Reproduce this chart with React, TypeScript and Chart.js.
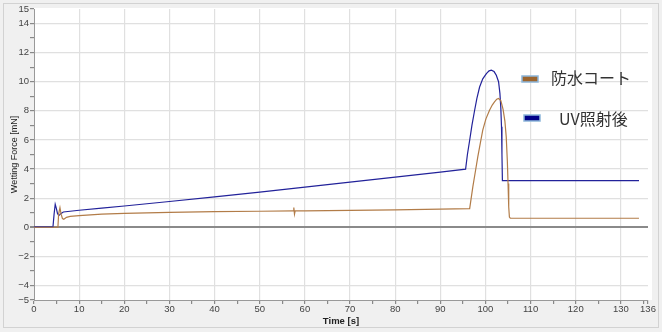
import React, { useEffect, useRef } from 'react';
import { Chart, registerables } from 'chart.js';

Chart.register(...registerables);

const seriesNames = ['防水コート', 'UV照射後'];

// 防水コート (brown)
const coatTimes = [0, 5.3, 5.45, 5.75, 6.0, 6.3, 6.6, 7.2, 8, 10, 15, 20, 30, 40, 50, 57.4, 57.55, 57.7, 57.85, 60, 70, 80, 90, 96.5, 97.2, 97.8, 98.3, 98.9, 99.4, 100.1, 100.9, 101.5, 102, 102.5, 102.9, 103.4, 103.9, 104.3, 104.6, 104.85, 105.0, 105.15, 105.3, 105.5, 120, 134];
const coatValues = [0.0, 0.0, 0.9, 1.35, 0.9, 0.6, 0.55, 0.68, 0.75, 0.8, 0.9, 0.95, 1.02, 1.07, 1.1, 1.12, 1.35, 0.9, 1.12, 1.12, 1.16, 1.2, 1.24, 1.28, 2.77, 3.9, 4.83, 5.85, 6.67, 7.45, 8.04, 8.4, 8.61, 8.8, 8.85, 8.7, 8.1, 7.3, 6.2, 4.5, 3.0, 1.4, 0.7, 0.62, 0.62, 0.62];

// UV照射後 (navy)
const uvTimes = [0, 4.2, 4.45, 4.7, 4.95, 5.2, 5.5, 6.0, 6.5, 8, 10, 15, 20, 30, 40, 50, 60, 70, 80, 90, 95.6, 96.0, 96.5, 97.0, 97.6, 98.1, 98.7, 99.4, 100.2, 100.8, 101.3, 101.9, 102.4, 102.9, 103.2, 103.4, 103.55, 103.65, 103.75, 110, 120, 134];
const uvValues = [0.02, 0.02, 0.9, 1.58, 1.3, 0.95, 0.8, 0.95, 1.05, 1.1, 1.17, 1.31, 1.46, 1.77, 2.09, 2.42, 2.76, 3.1, 3.44, 3.79, 3.99, 5.0, 5.98, 7.0, 8.04, 8.85, 9.64, 10.2, 10.56, 10.75, 10.8, 10.7, 10.45, 10.0, 9.2, 8.2, 6.9, 5.0, 3.2, 3.2, 3.2, 3.2];

const xMajorTicks = [0, 10, 20, 30, 40, 50, 60, 70, 80, 90, 100, 110, 120, 130, 136];
const xMinorTicks = [5, 15, 25, 35, 45, 55, 65, 75, 85, 95, 105, 115, 125, 135];
const yMajorTicks = [15, 14, 12, 10, 8, 6, 4, 2, 0, -2, -4, -5];
const yMinorTicks = [13, 11, 9, 7, 5, 3, 1, -1, -3];

const xTitle = 'Time [s]';
const yTitle = 'Wetting Force [mN]';

const coatColor = '#b27c48';
const uvColor = '#22229a';
const coatSwatch = '#9c652f';
const uvSwatch = '#000088';

const fmt = (v: number) => (v < 0 ? '\u2212' + Math.abs(v) : String(v));

const frameAndLegend = {
  id: 'frameAndLegend',
  beforeDraw(chart: any) {
    const { ctx, chartArea } = chart;
    ctx.save();
    ctx.fillStyle = '#f0f0f0';
    ctx.fillRect(0, 0, chart.width, chart.height);
    ctx.strokeStyle = '#d2d2d2';
    ctx.lineWidth = 1;
    ctx.strokeRect(3.5, 3.5, chart.width - 7, chart.height - 8);
    ctx.fillStyle = '#ffffff';
    ctx.fillRect(chartArea.left, chartArea.top - 1, chartArea.right - chartArea.left + 4, chartArea.bottom - chartArea.top + 1);
    ctx.restore();
  },
  afterDraw(chart: any) {
    const { ctx } = chart;
    const items = [
      { name: seriesNames[0], color: coatSwatch, sx: 522, sy: 76, tx: 551, ty: 78 },
      { name: seriesNames[1], color: uvSwatch, sx: 524, sy: 115, tx: 559, ty: 119 },
    ];
    ctx.save();
    for (const it of items) {
      ctx.fillStyle = it.color;
      ctx.fillRect(it.sx, it.sy, 16, 6);
      ctx.strokeStyle = '#8db6da';
      ctx.lineWidth = 1.5;
      ctx.strokeRect(it.sx, it.sy, 16, 6);
      ctx.fillStyle = '#333333';
      ctx.font = '16px "Noto Sans CJK JP", "Noto Sans", sans-serif';
      ctx.textBaseline = 'middle';
      ctx.textAlign = 'left';
      ctx.fillText(it.name, it.tx, it.ty);
    }
    ctx.restore();
  },
};

export default function App() {
  const ref = useRef<HTMLCanvasElement>(null);
  useEffect(() => {
    document.body.style.margin = '0';
    const toPts = (ts: number[], vs: number[]) => ts.map((t, i) => ({ x: t, y: vs[i] }));
    const tickFont = { family: '"Liberation Sans", Arial, sans-serif', size: 9.5 };
    const chart = new Chart(ref.current!, {
      type: 'line',
      data: {
        datasets: [
          {
            label: seriesNames[0],
            data: toPts(coatTimes, coatValues),
            borderColor: coatColor,
            borderWidth: 1.2,
            pointRadius: 0,
            tension: 0,
          },
          {
            label: seriesNames[1],
            data: toPts(uvTimes, uvValues),
            borderColor: uvColor,
            borderWidth: 1.2,
            pointRadius: 0,
            tension: 0,
          },
        ],
      },
      options: {
        animation: false,
        responsive: false,
        maintainAspectRatio: false,
        layout: { padding: { left: 0, right: 14, top: 9, bottom: 0 } },
        plugins: { legend: { display: false }, tooltip: { enabled: false } },
        scales: {
          x: {
            type: 'linear',
            min: 0,
            max: 136,
            afterFit: (s: any) => { s.height = 32; },
            afterBuildTicks: (s: any) => {
              s.ticks = [...xMajorTicks, ...xMinorTicks].sort((a, b) => a - b).map((v) => ({ value: v }));
            },
            ticks: {
              autoSkip: false,
              maxRotation: 0,
              padding: 0,
              color: '#444',
              font: tickFont,
              callback: (v: any) => (xMajorTicks.includes(v) ? fmt(v) : ''),
            },
            grid: {
              tickLength: 4,
              tickColor: '#888',
              color: (c: any) => {
                const v = c.tick?.value;
                return v !== undefined && v > 0 && v < 136 && v % 10 === 0 ? '#e0e0e0' : 'rgba(0,0,0,0)';
              },
              lineWidth: 1.2,
            },
            border: { display: true, color: '#999', width: 1 },
            title: {
              display: true,
              text: xTitle,
              color: '#222',
              font: { family: '"Liberation Sans", Arial, sans-serif', size: 9.5, weight: 'bold' },
              padding: { top: 0, bottom: 5 },
            },
          },
          y: {
            type: 'linear',
            min: -5,
            max: 15,
            afterFit: (s: any) => { s.width = 34; },
            afterBuildTicks: (s: any) => {
              s.ticks = [...yMajorTicks, ...yMinorTicks].sort((a, b) => a - b).map((v) => ({ value: v }));
            },
            ticks: {
              autoSkip: false,
              padding: 1,
              color: '#444',
              font: tickFont,
              callback: (v: any) => (yMajorTicks.includes(v) ? fmt(v) : ''),
            },
            grid: {
              tickLength: 4,
              tickColor: '#888',
              color: (c: any) => {
                const v = c.tick?.value;
                if (v === 0) return '#8a8a8a';
                return v !== undefined && v % 2 === 0 && v > -5 && v < 15 ? '#e0e0e0' : 'rgba(0,0,0,0)';
              },
              lineWidth: (c: any) => (c.tick?.value === 0 ? 2 : 1.2),
            },
            border: { display: true, color: '#999', width: 1 },
            title: {
              display: true,
              text: yTitle,
              color: '#222',
              font: { family: '"Liberation Sans", Arial, sans-serif', size: 9 },
              padding: { top: 9, bottom: 0 },
            },
          },
        },
      },
      plugins: [frameAndLegend],
    } as any);
    return () => chart.destroy();
  }, []);
  return (
    <div style={{ position: 'absolute', left: 0, top: 0, width: 662, height: 332 }}>
      <canvas ref={ref} width={662} height={332} style={{ display: 'block' }} />
    </div>
  );
}
